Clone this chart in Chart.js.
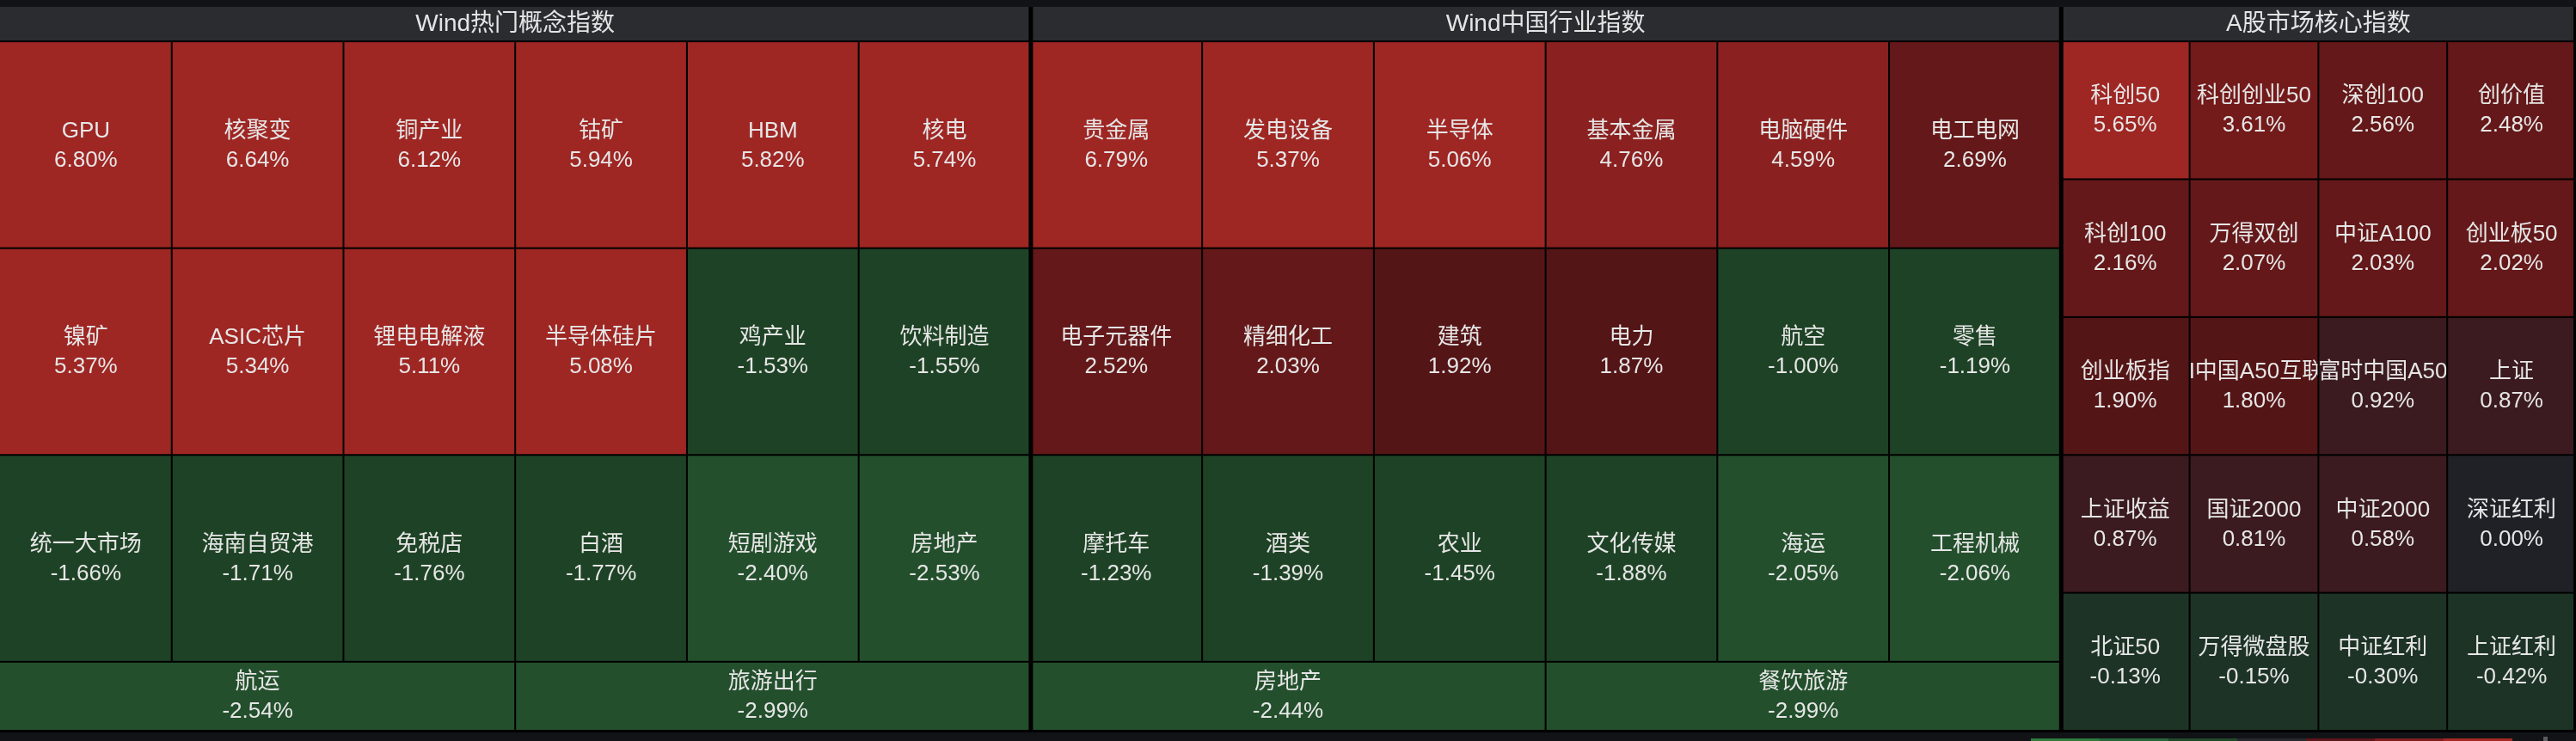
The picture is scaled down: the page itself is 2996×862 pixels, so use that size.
<!DOCTYPE html>
<html>
<head>
<meta charset="utf-8">
<script src="https://cdn.jsdelivr.net/npm/chart.js@4.4.1/dist/chart.umd.min.js"></script>
<style>
  html, body { margin: 0; padding: 0; background: #121317; }
  #wrap { width: 2996px; height: 862px; position: relative; }
</style>
</head>
<body>
<div id="wrap"><canvas id="heatChart"></canvas></div>
<script>
/* -------------------------
   Three panels of index moves (% change)
------------------------- */
const panelTitles = ['Wind热门概念指数', 'Wind中国行业指数', 'A股市场核心指数'];

const conceptNames = [
  'GPU', '核聚变', '铜产业', '钴矿', 'HBM', '核电',
  '镍矿', 'ASIC芯片', '锂电电解液', '半导体硅片', '鸡产业', '饮料制造',
  '统一大市场', '海南自贸港', '免税店', '白酒', '短剧游戏', '房地产',
  '航运', '旅游出行'
];
const conceptValues = [
  6.80, 6.64, 6.12, 5.94, 5.82, 5.74,
  5.37, 5.34, 5.11, 5.08, -1.53, -1.55,
  -1.66, -1.71, -1.76, -1.77, -2.40, -2.53,
  -2.54, -2.99
];

const industryNames = [
  '贵金属', '发电设备', '半导体', '基本金属', '电脑硬件', '电工电网',
  '电子元器件', '精细化工', '建筑', '电力', '航空', '零售',
  '摩托车', '酒类', '农业', '文化传媒', '海运', '工程机械',
  '房地产', '餐饮旅游'
];
const industryValues = [
  6.79, 5.37, 5.06, 4.76, 4.59, 2.69,
  2.52, 2.03, 1.92, 1.87, -1.00, -1.19,
  -1.23, -1.39, -1.45, -1.88, -2.05, -2.06,
  -2.44, -2.99
];

const coreNames = [
  '科创50', '科创创业50', '深创100', '创价值',
  '科创100', '万得双创', '中证A100', '创业板50',
  '创业板指', 'MSCI中国A50互联互通', '富时中国A50', '上证',
  '上证收益', '国证2000', '中证2000', '深证红利',
  '北证50', '万得微盘股', '中证红利', '上证红利'
];
const coreValues = [
  5.65, 3.61, 2.56, 2.48,
  2.16, 2.07, 2.03, 2.02,
  1.90, 1.80, 0.92, 0.87,
  0.87, 0.81, 0.58, 0.00,
  -0.13, -0.15, -0.30, -0.42
];

// colour bar shown at the bottom right (from strong fall to strong rise)
const legendColors = ['#2e7b3c', '#25673a', '#1f4a28', '#26282d', '#5a1618', '#7f1e1e', '#a52824'];

function cellColor(v) {
  if (v >= 5) return '#9e2623';
  if (v >= 4) return '#8a2120';
  if (v >= 3) return '#731a1a';
  if (v >= 2) return '#641819';
  if (v >= 1) return '#541517';
  if (v > 0) return '#3b1b1f';
  if (v === 0) return '#1f2127';
  if (v > -1) return '#1d3326';
  if (v > -2) return '#1e4225';
  return '#234f2c';
}

// build cell boxes (in axis units) for one panel
function buildPanel(panel, names, values, x0, width, rowCounts, rowHeights) {
  const cells = [];
  let i = 0;
  let y = 0.5;
  rowCounts.forEach((n, r) => {
    const w = width / n;
    for (let c = 0; c < n; c++) {
      const cx0 = x0 + c * w;
      cells.push({
        x: cx0 + w / 2, y: y + rowHeights[r] / 2,
        x0: cx0, x1: cx0 + w, y0: y, y1: y + rowHeights[r],
        panel: panel, pLeft: x0, pRight: x0 + width,
        name: names[i], value: values[i]
      });
      i++;
    }
    y += rowHeights[r];
  });
  return cells;
}

const panelStart = [0, 6, 12];
const panelWidth = [6, 6, 3];

const cells = [].concat(
  buildPanel(0, conceptNames, conceptValues, panelStart[0], panelWidth[0], [6, 6, 6, 2], [3, 3, 3, 1]),
  buildPanel(1, industryNames, industryValues, panelStart[1], panelWidth[1], [6, 6, 6, 2], [3, 3, 3, 1]),
  buildPanel(2, coreNames, coreValues, panelStart[2], panelWidth[2], [4, 4, 4, 4, 4], [2, 2, 2, 2, 2])
);

const headers = panelTitles.map((t, k) => ({
  x: panelStart[k] + panelWidth[k] / 2, y: 0.25,
  x0: panelStart[k], x1: panelStart[k] + panelWidth[k], y0: 0, y1: 0.5,
  panel: k, pLeft: panelStart[k], pRight: panelStart[k] + panelWidth[k],
  name: t
}));

const FONT = '"Liberation Sans", "Noto Sans CJK SC", sans-serif';

function boxPx(chart, d) {
  const xs = chart.scales.x, ys = chart.scales.y;
  const edgeL = d.x0 === d.pLeft ? (d.pLeft === 0 ? 0 : 3) : 1;
  const edgeR = d.x1 === d.pRight ? (d.pRight === 15 ? 3 : 2) : 1;
  const left = xs.getPixelForValue(d.x0) + edgeL;
  const right = xs.getPixelForValue(d.x1) - edgeR;
  const top = ys.getPixelForValue(d.y0) + (d.y0 === 0 ? 0 : 1);
  const bottom = ys.getPixelForValue(d.y1) - 1;
  return { left, top, w: right - left, h: bottom - top };
}

const heatmapPlugin = {
  id: 'heatmapCells',
  beforeDatasetsDraw(chart) {
    const ctx = chart.ctx;
    const area = chart.chartArea;
    ctx.save();
    ctx.fillStyle = '#000000';
    ctx.fillRect(area.left, area.top, area.right - area.left, area.bottom - area.top + 2);

    const hdr = chart.data.datasets[0].data;
    hdr.forEach(d => {
      const b = boxPx(chart, d);
      ctx.fillStyle = '#2b2c30';
      ctx.fillRect(b.left, b.top, b.w, b.h);
      ctx.fillStyle = '#e4e4e4';
      ctx.font = '28px ' + FONT;
      ctx.textAlign = 'center';
      ctx.textBaseline = 'middle';
      ctx.fillText(d.name, chart.scales.x.getPixelForValue(d.x), b.top + b.h / 2 + 1);
    });

    const data = chart.data.datasets[1].data;
    data.forEach(d => {
      const b = boxPx(chart, d);
      ctx.fillStyle = cellColor(d.value);
      ctx.fillRect(b.left, b.top, b.w, b.h);
      const cx = chart.scales.x.getPixelForValue(d.x);
      const cy = chart.scales.y.getPixelForValue(d.y);
      ctx.save();
      ctx.beginPath();
      ctx.rect(b.left, b.top, b.w, b.h);
      ctx.clip();
      ctx.fillStyle = '#e6e6e6';
      ctx.font = '26px ' + FONT;
      ctx.textAlign = 'center';
      ctx.textBaseline = 'middle';
      ctx.fillText(d.name, cx, cy - 16);
      ctx.fillText(d.value.toFixed(2) + '%', cx, cy + 18);
      ctx.restore();
    });

    // colour bar along the bottom edge
    const segW = 80;
    const startX = chart.width - 634;
    legendColors.forEach((c, k) => {
      ctx.fillStyle = c;
      ctx.fillRect(startX + k * segW, chart.height - 3, segW, 3);
    });
    ctx.fillStyle = '#5a5c62';
    ctx.fillRect(chart.width - 38, chart.height - 5, 5, 5);
    ctx.restore();
  }
};

const ctx = document.getElementById('heatChart').getContext('2d');
new Chart(ctx, {
  type: 'scatter',
  data: {
    datasets: [
      { label: 'headers', data: headers, pointRadius: 0, pointHoverRadius: 0 },
      { label: 'cells', data: cells, pointRadius: 0, pointHoverRadius: 0 }
    ]
  },
  options: {
    responsive: true,
    maintainAspectRatio: false,
    animation: false,
    events: [],
    layout: { padding: { top: 8, bottom: 12, left: 0, right: 0 } },
    scales: {
      x: { type: 'linear', min: 0, max: 15, display: false },
      y: { type: 'linear', min: 0, max: 10.5, reverse: true, display: false }
    },
    plugins: { legend: { display: false }, tooltip: { enabled: false } }
  },
  plugins: [heatmapPlugin]
});
</script>
</body>
</html>
